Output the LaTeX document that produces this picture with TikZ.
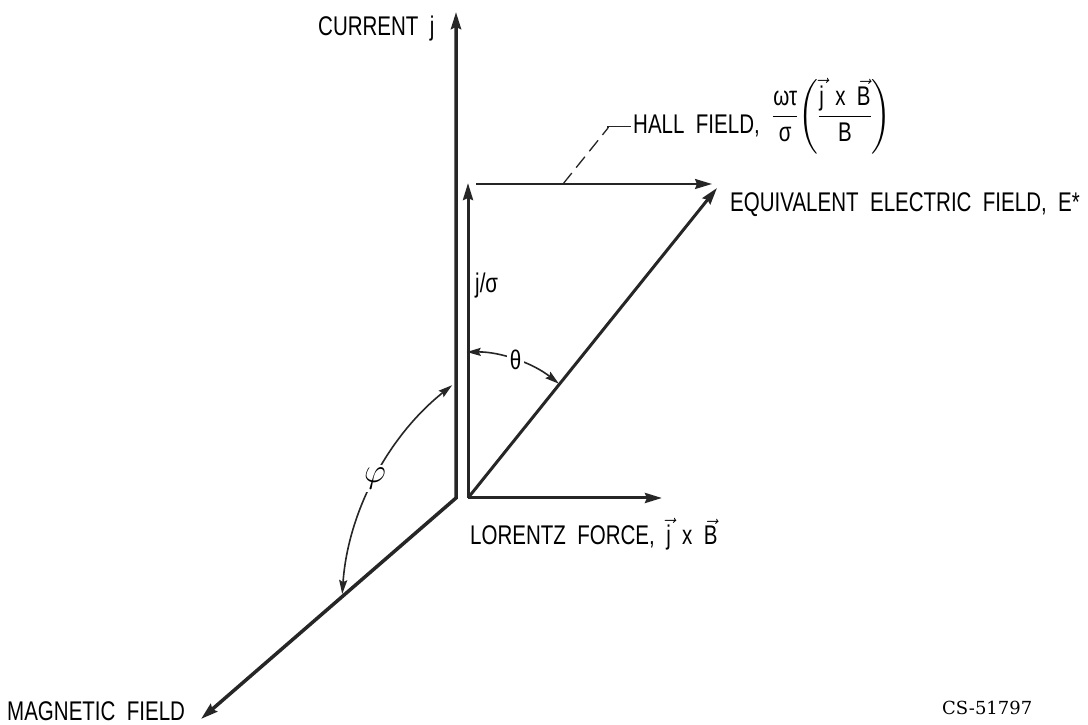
\RequirePackage{fix-cm}
\documentclass[tikz,border=0pt]{standalone}
\usepackage{amsmath}
\usepackage{fontspec}
\setsansfont[FakeStretch=0.76,WordSpace=2.0]{Liberation Sans}
\newfontfamily\csfont{DejaVu Serif}
\usetikzlibrary{arrows.meta,calc}
\begin{document}
\begin{tikzpicture}[x=1pt,y=1pt,
  lab/.style={font=\sffamily\fontsize{27}{32}\selectfont, inner sep=0pt, text=black},
  bigtip/.tip={Stealth[length=17pt,width=10pt,inset=2pt]},
  smalltip/.tip={Stealth[length=14pt,width=8pt,inset=2pt]},
  vec/.style={draw=black!85, line width=3pt, -bigtip},
  axisline/.style={draw=black!85, line width=3.5pt, bigtip-bigtip, line join=miter},
  hallvec/.style={draw=black!85, line width=2pt, -bigtip},
  anglearc/.style={draw=black!85, line width=1.6pt, smalltip-smalltip},
  leader/.style={draw=black!85, line width=1.3pt},
  anglelab/.style={lab, fill=white, inner sep=3pt}
]
\useasboundingbox (0,0) rectangle (1088,725);
\fill[white] (0,0) rectangle (1088,725);

% points
\coordinate (C) at (456,227);
\coordinate (Mtip) at (201,6);
\coordinate (Jtop) at (456,713);
\coordinate (O) at (468,227);
\coordinate (Jsig) at (468,542);
\coordinate (H0) at (476,541);
\coordinate (H1) at (712,541);
\coordinate (E) at (717,537);
\coordinate (L) at (662,227);
\coordinate (P) at (634.5,110.5);
\coordinate (Hd) at (563,541);
\coordinate (Hb) at (608,597);

% vectors
\draw[axisline] (Mtip) -- (C) -- (Jtop);
\draw[vec] (O) -- (Jsig);
\draw[vec] (O) -- (E);
\draw[vec] (O) -- (L);
\draw[hallvec] (H0) -- (H1);

% angle arcs
\draw[anglearc] ($(O)+(90.5:146pt)$) arc[start angle=90.5, end angle=51.5, radius=146pt];
\draw[anglearc] ($(P)+(128.5:293pt)$) arc[start angle=128.5, end angle=176, radius=293pt];
\node[anglelab] (theta) at ($(O)+(71:146pt)$) {θ};
\node[anglelab, font=\fontsize{34}{40}\selectfont] (phi) at ($(P)+(152.3:293pt)$) {$\varphi$};

% labels
\node[lab, anchor=base west] (cur) at (318,689) {CURRENT j};
\node[lab, anchor=base west] (hall) at (633,591) {HALL FIELD,};
\node[lab, anchor=west] (hallf) at (772,609)
  {$\dfrac{\hbox{ωτ}}{\hbox{σ}}\!\left(\dfrac{\vec{\hbox{j}}\hbox{ x }\vec{\hbox{B}}}{\hbox{B}}\right)$};
\node[lab, anchor=base west] (eq) at (730,513) {EQUIVALENT ELECTRIC FIELD, E*};
\node[lab, anchor=base west] (jsig) at (475,432) {j/σ};
\node[lab, anchor=base west] (lor) at (470,180) {LORENTZ FORCE, $\vec{\hbox{j}}$ x $\vec{\hbox{B}}$};
\node[lab, anchor=base west] (mag) at (7,4) {MAGNETIC FIELD};
\node[font=\csfont\fontsize{18}{22}\selectfont, inner sep=0pt, anchor=base west] (cs) at (942,10) {CS-51797};

% leader for Hall field
\draw[leader, dash pattern=on 14pt off 7pt] (Hd) -- (Hb);
\draw[leader] (Hb) -- (Hb |- hall.west) -- ([xshift=-2pt]hall.west);
\end{tikzpicture}
\end{document}
